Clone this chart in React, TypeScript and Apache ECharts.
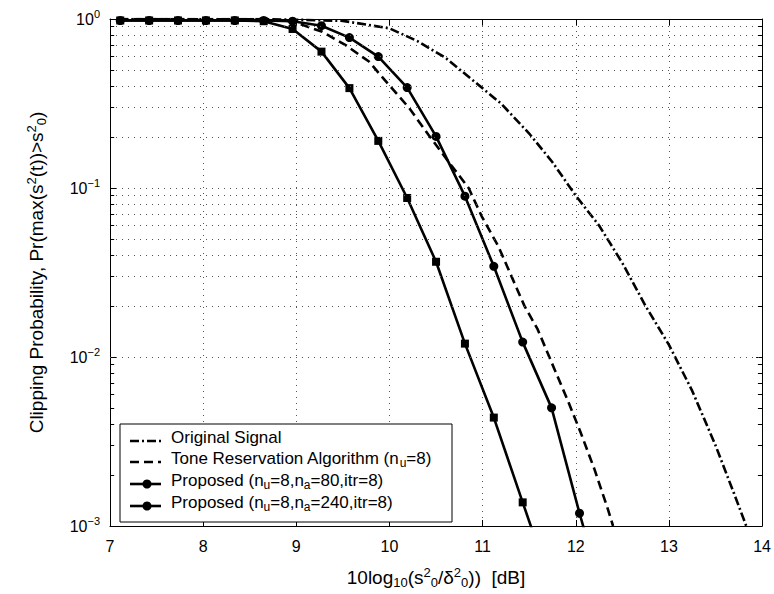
import React, { useEffect, useRef } from "react";
import * as echarts from "echarts";

const FONT = "'Liberation Sans', Arial, Helvetica, sans-serif";

// axis ticks
const xTicks = [7, 8, 9, 10, 11, 12, 13, 14];
const yMinorValues = [
  0.002, 0.003, 0.004, 0.005, 0.006, 0.007, 0.008, 0.009,
  0.02, 0.03, 0.04, 0.05, 0.06, 0.07, 0.08, 0.09,
  0.2, 0.3, 0.4, 0.5, 0.6, 0.7, 0.8, 0.9,
];

// series names
const seriesNames = [
  "Original Signal",
  "Tone Reservation Algorithm (n_u=8)",
  "Proposed (n_u=8,n_a=80,itr=8)",
  "Proposed (n_u=8,n_a=240,itr=8)",
];

// Original signal (dash-dot)
const originalX = [7.1, 8.6, 9.0, 9.5, 10.0, 10.3, 10.6, 10.95, 11.2, 11.5, 11.75, 12.0, 12.25, 12.5, 12.75, 13.0, 13.25, 13.5, 13.7, 13.83];
const originalY = [1.0, 1.0, 0.99, 0.975, 0.88, 0.74, 0.59, 0.41, 0.315, 0.21, 0.142, 0.09, 0.06, 0.036, 0.02, 0.0118, 0.0063, 0.003, 0.00155, 0.001];

// Tone reservation (dashed)
const toneX = [7.1, 8.6, 8.95, 9.28, 9.53, 9.78, 9.99, 10.21, 10.42, 10.63, 10.85, 10.99, 11.17, 11.31, 11.45, 11.59, 11.77, 11.91, 12.05, 12.2, 12.34, 12.4];
const toneY = [1.0, 0.995, 0.97, 0.84, 0.7, 0.56, 0.41, 0.298, 0.206, 0.144, 0.1, 0.068, 0.045, 0.03, 0.02, 0.0146, 0.0085, 0.0056, 0.0036, 0.00217, 0.00128, 0.001];

// Proposed curves (shared SNR grid)
const proposedX = [7.11, 7.42, 7.73, 8.03, 8.34, 8.65, 8.96, 9.27, 9.57, 9.88, 10.19, 10.5, 10.81, 11.12, 11.43, 11.74, 12.04, 12.35];
const proposed80Y = [0.98, 0.98, 0.98, 0.98, 0.98, 0.98, 0.97, 0.913, 0.776, 0.599, 0.393, 0.202, 0.0895, 0.0344, 0.01225, 0.005, 0.00119, 0.0003];
const proposed240Y = [0.98, 0.98, 0.98, 0.98, 0.98, 0.97, 0.873, 0.641, 0.39, 0.19, 0.0873, 0.0366, 0.012, 0.00438, 0.00138, 0.00044];

const pairs = (xs: number[], ys: number[]) => ys.map((y, i) => [xs[i], y]);

const supMinus = (v: number) => {
  const e = Math.round(Math.log10(v));
  return e < 0 ? "\u2212" + Math.abs(e) : String(e);
};

export default function App() {
  const ref = useRef<HTMLDivElement>(null);

  useEffect(() => {
    if (!ref.current) return;
    const chart = echarts.init(ref.current, null, { renderer: "svg" });

    const gridDot = { color: "#555", width: 1, type: [1, 5] as any };

    const minorMarkData: any[] = [];
    yMinorValues.forEach((v) => {
      minorMarkData.push({ yAxis: v, lineStyle: gridDot });
      minorMarkData.push([{ coord: [7, v] }, { coord: [7.045, v] }]);
      minorMarkData.push([{ coord: [13.955, v] }, { coord: [14, v] }]);
    });

    const axisLine = { show: true, lineStyle: { color: "#000", width: 1 } };
    const richName = {
      n: { fontSize: 19, fontFamily: FONT, color: "#000" },
      s: { fontSize: 13, fontFamily: FONT, color: "#000", padding: [10, 0, 0, 0] },
      q: { fontSize: 13, fontFamily: FONT, color: "#000", padding: [0, 0, 10, 0] },
    };

    const lw = 2.6;

    const legendRows = [
      { y: 437, text: "Original Signal", dash: [9, 3, 2, 3], marker: false },
      { y: 458, text: "Tone Reservation Algorithm (n{s|u}=8)", dash: [9, 5], marker: false },
      { y: 480, text: "Proposed (n{s|u}=8,n{s|a}=80,itr=8)", dash: null, marker: true },
      { y: 502, text: "Proposed (n{s|u}=8,n{s|a}=240,itr=8)", dash: null, marker: true },
    ];
    const legendElems: any[] = [
      {
        type: "rect",
        shape: { x: 120, y: 424, width: 332, height: 98 },
        style: { fill: "#fff", stroke: "#000", lineWidth: 1 },
        z: 100,
      },
    ];
    legendRows.forEach((r, i) => {
      legendElems.push({
        type: "line",
        shape: { x1: 130, y1: r.y + 4, x2: 161, y2: r.y + 4 },
        style: { stroke: "#000", lineWidth: lw, lineDash: r.dash || undefined },
        z: 101,
      });
      if (r.marker) {
        legendElems.push({
          type: "circle",
          shape: { cx: 147, cy: r.y + 4, r: 4.5 },
          style: { fill: "#000" },
          z: 102,
        });
      }
      legendElems.push({
        type: "text",
        x: 171,
        y: r.y,
        style: {
          text: r.text,
          fill: "#000",
          fontSize: 17,
          fontFamily: FONT,
          verticalAlign: "middle",
          rich: {
            s: { fontSize: 12, fontFamily: FONT, fill: "#000", padding: [10, 0, 0, 0] },
          },
        },
        z: 102,
        name: seriesNames[i],
      });
    });

    const option: any = {
      animation: false,
      backgroundColor: "#fff",
      grid: { left: 110, right: 9, top: 19, bottom: 67, containLabel: false },
      xAxis: [
        {
          type: "value",
          min: xTicks[0],
          max: xTicks[xTicks.length - 1],
          interval: 1,
          position: "bottom",
          axisLine,
          axisTick: { show: true, inside: true, length: 6, lineStyle: { color: "#000" } },
          axisLabel: { color: "#000", fontSize: 16, fontFamily: FONT, margin: 12 },
          splitLine: { show: true, lineStyle: gridDot },
          name: "{n|10log}{s|10}{n|(s}{q|2}{s|0}{n|/\u03b4}{q|2}{s|0}{n|))  [dB]}",
          nameLocation: "middle",
          nameGap: 40,
          nameTextStyle: { rich: richName },
        },
        {
          type: "value",
          min: xTicks[0],
          max: xTicks[xTicks.length - 1],
          interval: 1,
          position: "top",
          axisLine,
          axisTick: { show: true, inside: true, length: 6, lineStyle: { color: "#000" } },
          axisLabel: { show: false },
          splitLine: { show: false },
        },
      ],
      yAxis: [
        {
          type: "log",
          logBase: 10,
          min: 0.001,
          max: 1,
          splitNumber: 3,
          position: "left",
          axisLine,
          axisTick: { show: true, inside: true, length: 6, lineStyle: { color: "#000" } },
          axisLabel: {
            color: "#000",
            margin: 10,
            formatter: (v: number) => `{b|10}{e|${supMinus(v)}}`,
            rich: {
              b: { fontSize: 16, fontFamily: FONT, color: "#000" },
              e: { fontSize: 11, fontFamily: FONT, color: "#000", padding: [0, 0, 10, 0] },
            },
          },
          splitLine: { show: true, lineStyle: gridDot },
          name: "{n|Clipping Probability, Pr(max(s}{q|2}{n|(t))>s}{q|2}{s|0}{n|)}",
          nameLocation: "middle",
          nameGap: 62,
          nameRotate: 90,
          nameTextStyle: { rich: richName },
        },
        {
          type: "log",
          logBase: 10,
          min: 0.001,
          max: 1,
          splitNumber: 3,
          position: "right",
          axisLine,
          axisTick: { show: true, inside: true, length: 6, lineStyle: { color: "#000" } },
          axisLabel: { show: false },
          splitLine: { show: false },
        },
      ],
      graphic: legendElems,
      series: [
        {
          name: "grid",
          type: "line",
          data: [],
          silent: true,
          markLine: {
            silent: true,
            symbol: ["none", "none"],
            label: { show: false },
            lineStyle: { color: "#000", width: 1, type: "solid" },
            data: minorMarkData,
            animation: false,
          },
          z: 1,
        },
        {
          name: seriesNames[0],
          type: "line",
          data: pairs(originalX, originalY),
          symbol: "none",
          clip: true,
          lineStyle: { color: "#000", width: lw, type: [9, 3, 2, 3] },
          z: 3,
        },
        {
          name: seriesNames[1],
          type: "line",
          data: pairs(toneX, toneY),
          symbol: "none",
          clip: true,
          lineStyle: { color: "#000", width: lw, type: [9, 5] },
          z: 3,
        },
        {
          name: seriesNames[2],
          type: "line",
          data: pairs(proposedX, proposed80Y),
          symbol: "circle",
          symbolSize: 9,
          showAllSymbol: true,
          clip: true,
          itemStyle: { color: "#000" },
          lineStyle: { color: "#000", width: lw },
          z: 4,
        },
        {
          name: seriesNames[3],
          type: "line",
          data: pairs(proposedX, proposed240Y),
          symbol: "rect",
          symbolSize: 8,
          showAllSymbol: true,
          clip: true,
          itemStyle: { color: "#000" },
          lineStyle: { color: "#000", width: lw },
          z: 4,
        },
      ],
    };

    chart.setOption(option);
    return () => chart.dispose();
  }, []);

  return (
    <div
      ref={ref}
      style={{ position: "fixed", left: 0, top: 0, width: 774, height: 594, background: "#fff" }}
    />
  );
}
